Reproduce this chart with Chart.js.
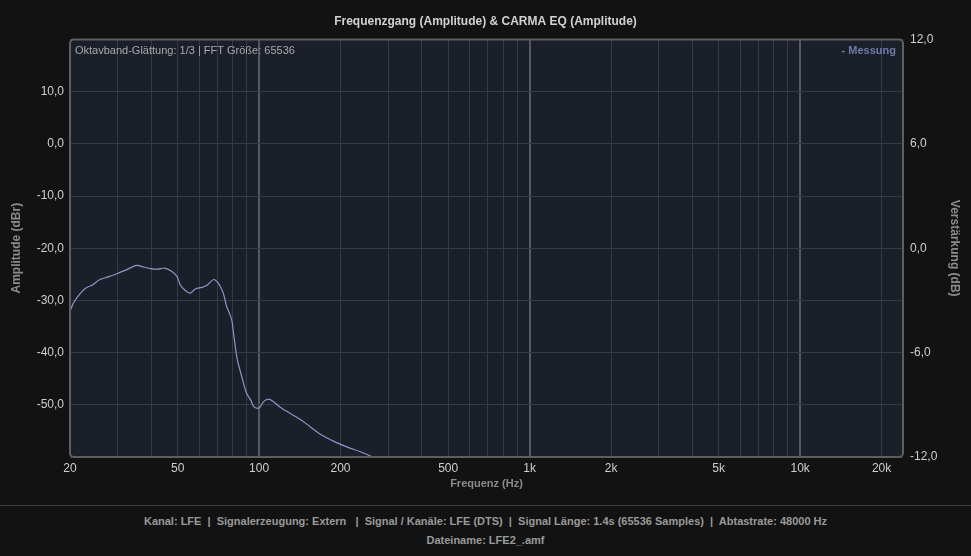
<!DOCTYPE html>
<html>
<head>
<meta charset="utf-8">
<script src="https://cdn.jsdelivr.net/npm/chart.js@4/dist/chart.umd.min.js"></script>
<style>
  body { margin: 0; background: #121212; font-family: "Liberation Sans", Arial, sans-serif; }
  #wrap { width: 971px; height: 556px; position: relative; }
  #chart-container { width: 971px; height: 503px; position: relative; }
  #footer { border-top: 1px solid #3a3a3a; margin-top: 2px; color: #9a9a9a; font-weight: bold; font-size: 11px; text-align: center; }
  #footer div { white-space: pre; }
  #footer .l1 { margin-top: 9px; height: 19px; }
</style>
</head>
<body>
<div id="wrap">
  <div id="chart-container"><canvas id="chart"></canvas></div>
  <div id="footer">
    <div class="l1">Kanal: LFE  |  Signalerzeugung: Extern   |  Signal / Kanäle: LFE (DTS)  |  Signal Länge: 1.4s (65536 Samples)  |  Abtastrate: 48000 Hz</div>
    <div>Dateiname: LFE2_.amf</div>
  </div>
</div>
<script>
const frequencies = [20, 20.6, 21.8, 23.1, 24.1, 25.8, 27.7, 29.8, 32.4, 35.3, 37.4, 39.6, 42.4, 44.6, 47.5, 49.7,
  51.1, 53.3, 55.7, 58.1, 61.5, 64.2, 67.9, 70.4, 72.8, 74.0, 75.9, 77.2, 79.2, 80.6, 82.9, 86.6, 89.9, 93.2, 95.4,
  98.8, 101, 103.9, 108.4, 113, 119.3, 130, 142, 150, 168, 189, 212, 237, 266]
const amplitude = [-32.1, -30.5, -28.7, -27.5, -27.1, -26.0, -25.5, -24.9, -24.1, -23.3, -23.6, -23.9, -24.0, -23.8, -24.4, -25.4,
  -27.0, -28.1, -28.6, -27.8, -27.5, -27.1, -26.0, -26.6, -27.9, -28.9, -31.2, -32.1, -33.7, -36.6, -41.1, -44.9, -47.8, -49.1, -50.3,
  -50.7, -50.4, -49.4, -48.9, -49.4, -50.4, -51.6, -52.8, -53.7, -55.6, -57.0, -58.1, -59.0, -60.1]

const gridFrequencies = [20, 30, 40, 50, 60, 70, 80, 90, 100, 200, 300, 400, 500, 600, 700, 800, 900,
  1000, 2000, 3000, 4000, 5000, 6000, 7000, 8000, 9000, 10000, 20000]
const labelledFrequencies = [20, 50, 100, 200, 500, 1000, 2000, 5000, 10000, 20000]
const decadeLines = [100, 1000, 10000]

const fmt = v => v.toFixed(1).replace('.', ',')

const plotFrame = {
  id: 'plotFrame',
  beforeDraw (chart) {
    const { ctx, chartArea: a } = chart
    ctx.save()
    ctx.fillStyle = '#1a1f2a'
    ctx.fillRect(a.left, a.top, a.right - a.left, a.bottom - a.top)
    ctx.restore()
  },
  afterDraw (chart) {
    const { ctx, chartArea: a } = chart
    ctx.save()
    ctx.strokeStyle = '#5c5e62'
    ctx.lineWidth = 2
    ctx.beginPath()
    ctx.roundRect(a.left, a.top, a.right - a.left, a.bottom - a.top, 4)
    ctx.stroke()
    ctx.textBaseline = 'middle'
    ctx.font = '11px "Liberation Sans", Arial, sans-serif'
    ctx.fillStyle = '#a8a8a8'
    ctx.textAlign = 'left'
    ctx.fillText('Oktavband-Glättung: 1/3 | FFT Größe: 65536', a.left + 5, a.top + 12)
    ctx.font = 'bold 11px "Liberation Sans", Arial, sans-serif'
    ctx.fillStyle = '#6e7ca6'
    ctx.textAlign = 'right'
    ctx.fillText('- Messung', a.right - 7, a.top + 12)
    ctx.restore()
  }
}

Chart.defaults.font.family = '"Liberation Sans", Arial, sans-serif'

new Chart(document.getElementById('chart'), {
  type: 'line',
  data: {
    datasets: [{
      label: 'Messung',
      data: frequencies.map((f, i) => ({ x: f, y: amplitude[i] })),
      borderColor: '#8d97c4',
      borderWidth: 1.2,
      pointRadius: 0,
      tension: 0.3,
      yAxisID: 'y'
    }]
  },
  options: {
    responsive: true,
    maintainAspectRatio: false,
    animation: false,
    layout: { padding: 0 },
    plugins: {
      legend: { display: false },
      tooltip: { enabled: false },
      title: {
        display: true,
        text: 'Frequenzgang (Amplitude) & CARMA EQ (Amplitude)',
        color: '#d2d2d2',
        font: { size: 12, weight: 'bold' },
        padding: { top: 14, bottom: 11 }
      }
    },
    scales: {
      x: {
        type: 'logarithmic',
        min: 20,
        max: 24000,
        afterBuildTicks (axis) {
          axis.ticks = gridFrequencies.map(v => ({ value: v }))
        },
        afterFit (axis) { axis.height = 46 },
        ticks: {
          autoSkip: false,
          maxRotation: 0,
          padding: 4,
          color: '#cfcfcf',
          font: { size: 12 },
          callback: v => labelledFrequencies.includes(v) ? (v >= 1000 ? (v / 1000) + 'k' : String(v)) : ''
        },
        grid: {
          drawTicks: false,
          color: ctx => decadeLines.includes(ctx.tick && ctx.tick.value) ? '#56595f' : '#353a45',
          lineWidth: ctx => decadeLines.includes(ctx.tick && ctx.tick.value) ? 2 : 1
        },
        border: { display: false },
        title: {
          display: true,
          text: 'Frequenz (Hz)',
          color: '#8c8c8c',
          font: { size: 11, weight: 'bold' },
          padding: { top: 0, bottom: 12 }
        }
      },
      y: {
        position: 'left',
        min: -60,
        max: 20,
        afterFit (axis) { axis.width = 70 },
        ticks: {
          stepSize: 10,
          padding: 6,
          color: '#cfcfcf',
          font: { size: 12 },
          callback: v => (v === 20 || v === -60) ? '' : fmt(v)
        },
        grid: { drawTicks: false, color: '#353a45' },
        border: { display: false },
        title: {
          display: true,
          text: 'Amplitude (dBr)',
          color: '#8c8c8c',
          font: { size: 12, weight: 'bold' },
          padding: { top: 9, bottom: 0 }
        }
      },
      y2: {
        position: 'right',
        display: true,
        min: -12,
        max: 12,
        afterFit (axis) { axis.width = 68 },
        ticks: {
          stepSize: 6,
          padding: 7,
          color: '#cfcfcf',
          font: { size: 12 },
          callback: v => fmt(v)
        },
        grid: { display: false, drawTicks: false },
        border: { display: false },
        title: {
          display: true,
          text: 'Verstärkung (dB)',
          color: '#8c8c8c',
          font: { size: 12, weight: 'bold' },
          padding: { top: 9, bottom: 0 }
        }
      }
    }
  },
  plugins: [plotFrame]
})
</script>
</body>
</html>
